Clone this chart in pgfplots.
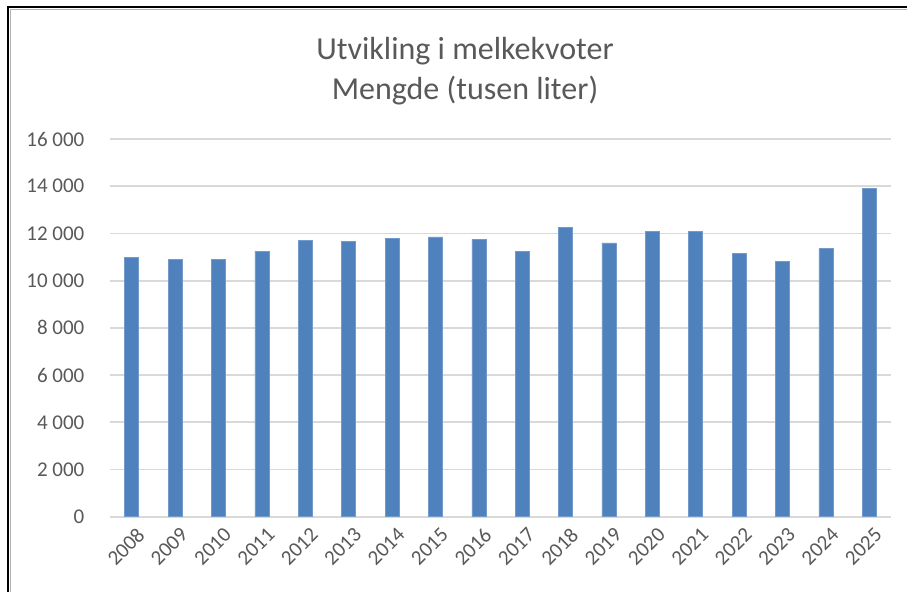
\documentclass[border=0pt]{standalone}
\usepackage{pgfplots}
\pgfplotsset{compat=1.18}
\usepackage{fontspec}
\setmainfont{Carlito}
\definecolor{barblue}{HTML}{4F81BD}
\definecolor{txtgray}{HTML}{595959}
\definecolor{gridgray}{HTML}{D9D9D9}
\pgfplotstableread{
x val
0 11000
1 10900
2 10900
3 11250
4 11700
5 11650
6 11800
7 11850
8 11750
9 11250
10 12250
11 11600
12 12100
13 12100
14 11150
15 10800
16 11350
17 13900
}\datatable
\begin{document}
\begin{tikzpicture}
\useasboundingbox (0,0) rectangle (453.5pt,296pt);
\fill[white] (0,0) rectangle (453.5pt,296pt);
\draw[black, line width=1.2pt] (4pt,0) -- (4pt,292.5pt) -- (453.5pt,292.5pt);
\draw[gray!60, line width=0.4pt] (5pt,0) -- (5pt,291.5pt) -- (453.5pt,291.5pt);
\node[anchor=base, text=txtgray, font=\fontsize{16}{19}\selectfont, inner sep=0pt] at (232.5pt,266.3pt) {Utvikling i melkekvoter};
\node[anchor=base, text=txtgray, font=\fontsize{16}{19}\selectfont, inner sep=0pt] at (232.5pt,246pt) {Mengde (tusen liter)};
\begin{axis}[
  at={(55pt,37.65pt)}, anchor=south west,
  scale only axis, width=390.5pt, height=188.85pt,
  xmin=-0.5, xmax=17.5, ymin=0, ymax=16000,
  ytick={0,2000,...,16000},
  xtick={0,...,17},
  xticklabels={2008,2009,2010,2011,2012,2013,2014,2015,2016,2017,2018,2019,2020,2021,2022,2023,2024,2025},
  axis line style={draw=none},
  major tick length=0pt,
  ymajorgrids, grid style={gridgray, line width=0.9pt},
  /pgf/number format/assume math mode=true,
  /pgf/number format/1000 sep={\ },
  scaled y ticks=false,
  tick label style={text=txtgray, font=\fontsize{10.5}{12}\selectfont},
  yticklabel style={anchor=east, xshift=-9.3pt},
  xticklabel style={rotate=45, anchor=east, xshift=1.5pt, yshift=-8.5pt},
  ybar, bar width=7pt,
]
\addplot[fill=barblue, draw=barblue!80!white, line width=0.3pt] table[x=x, y=val] {\datatable};
\end{axis}
\end{tikzpicture}
\end{document}
